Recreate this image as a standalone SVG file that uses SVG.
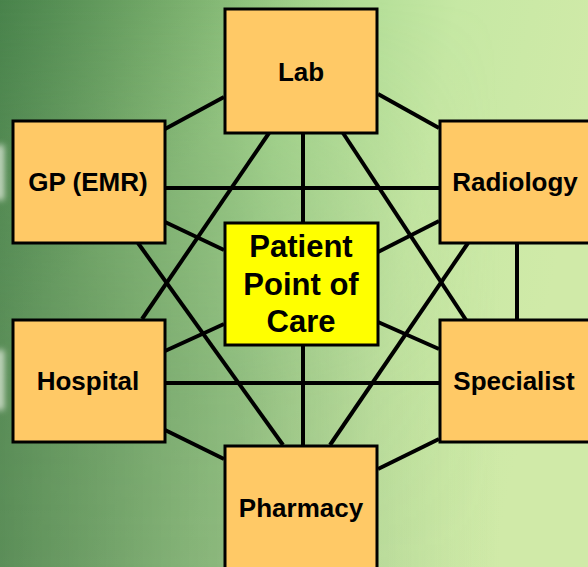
<svg xmlns="http://www.w3.org/2000/svg" width="588" height="567" viewBox="0 0 588 567">
<defs>
<linearGradient id="bg" x1="0" y1="0" x2="1" y2="0.2">
<stop offset="0" stop-color="#548e55"/>
<stop offset="0.25" stop-color="#80b572"/>
<stop offset="0.5" stop-color="#a8d890"/>
<stop offset="0.75" stop-color="#c6e8a4"/>
<stop offset="1" stop-color="#d0eaa8"/>
</linearGradient>
<linearGradient id="shade" x1="0" y1="0" x2="0.6" y2="0.6">
<stop offset="0" stop-color="#2f6a35" stop-opacity="0.3"/>
<stop offset="0.5" stop-color="#2f6a35" stop-opacity="0"/>
</linearGradient>
<linearGradient id="bottomShade" x1="0" y1="0" x2="1" y2="0">
<stop offset="0" stop-color="#4a7a4c" stop-opacity="0.6"/>
<stop offset="0.4" stop-color="#6b9666" stop-opacity="0.5"/>
<stop offset="0.62" stop-color="#8fb37c" stop-opacity="0.3"/>
<stop offset="0.85" stop-color="#b0d490" stop-opacity="0"/>
</linearGradient>
<linearGradient id="vfade" x1="0" y1="0" x2="0" y2="1">
<stop offset="0" stop-color="#fff" stop-opacity="0"/>
<stop offset="0.35" stop-color="#fff" stop-opacity="0.5"/>
<stop offset="0.7" stop-color="#fff" stop-opacity="0.9"/>
<stop offset="1" stop-color="#fff" stop-opacity="1"/>
</linearGradient>
<mask id="m">
<rect width="588" height="567" fill="url(#vfade)"/>
</mask>
<filter id="blur" x="-2" y="-1" width="5" height="3">
<feGaussianBlur stdDeviation="3"/>
</filter>
</defs>
<style>
.box{fill:#ffc966;stroke:#000;stroke-width:3}
.center{fill:#ffff00;stroke:#000;stroke-width:3}
.lbl{font-family:"Liberation Sans",Arial,sans-serif;font-weight:bold;font-size:26px;fill:#000;text-anchor:middle}
.big{font-size:31px}
#connectors line{stroke:#000;stroke-width:4}
.streak{fill:#f4f8ee;opacity:0.75;filter:url(#blur)}
</style>
<rect width="588" height="567" fill="url(#bg)"/>
<rect width="588" height="567" fill="url(#shade)"/>
<rect width="588" height="567" fill="url(#bottomShade)" mask="url(#m)"/>
<rect class="streak" x="-4" y="145" width="8" height="55"/>
<rect class="streak" x="-4" y="350" width="8" height="60"/>

<g id="connectors">
<line x1="165" y1="129" x2="224" y2="97"/>
<line x1="378" y1="94" x2="439" y2="128"/>
<line x1="165" y1="188" x2="439" y2="188"/>
<line x1="303" y1="133" x2="303" y2="445"/>
<line x1="269" y1="133" x2="142" y2="319"/>
<line x1="343" y1="133" x2="466" y2="320"/>
<line x1="138" y1="243" x2="283" y2="445"/>
<line x1="468" y1="243" x2="330" y2="445"/>
<line x1="165" y1="222" x2="224" y2="250"/>
<line x1="439" y1="221" x2="378" y2="252"/>
<line x1="165" y1="351" x2="224" y2="324"/>
<line x1="439" y1="349" x2="378" y2="322"/>
<line x1="165" y1="383" x2="439" y2="383"/>
<line x1="517" y1="243" x2="517" y2="320"/>
<line x1="165" y1="430" x2="224" y2="459"/>
<line x1="439" y1="439" x2="378" y2="469"/>
</g>

<g id="lab">
<rect class="box" x="225" y="9" width="152" height="124"/>
<text class="lbl" x="301" y="81">Lab</text>
</g>
<g id="gp">
<rect class="box" x="13" y="121" width="152" height="122"/>
<text class="lbl" x="88" y="191">GP (EMR)</text>
</g>
<g id="radiology">
<rect class="box" x="440" y="121" width="152" height="122"/>
<text class="lbl" x="515" y="191">Radiology</text>
</g>
<g id="hospital">
<rect class="box" x="13" y="320" width="152" height="122"/>
<text class="lbl" x="88" y="390">Hospital</text>
</g>
<g id="specialist">
<rect class="box" x="440" y="320" width="152" height="122"/>
<text class="lbl" x="514" y="390">Specialist</text>
</g>
<g id="pharmacy">
<rect class="box" x="225" y="446" width="152" height="130"/>
<text class="lbl" x="301" y="517">Pharmacy</text>
</g>
<g id="patient">
<rect class="center" x="225" y="223" width="153" height="122"/>
<text class="lbl big" x="301" y="257">Patient</text>
<text class="lbl big" x="301" y="295">Point of</text>
<text class="lbl big" x="301" y="332">Care</text>
</g>
</svg>
